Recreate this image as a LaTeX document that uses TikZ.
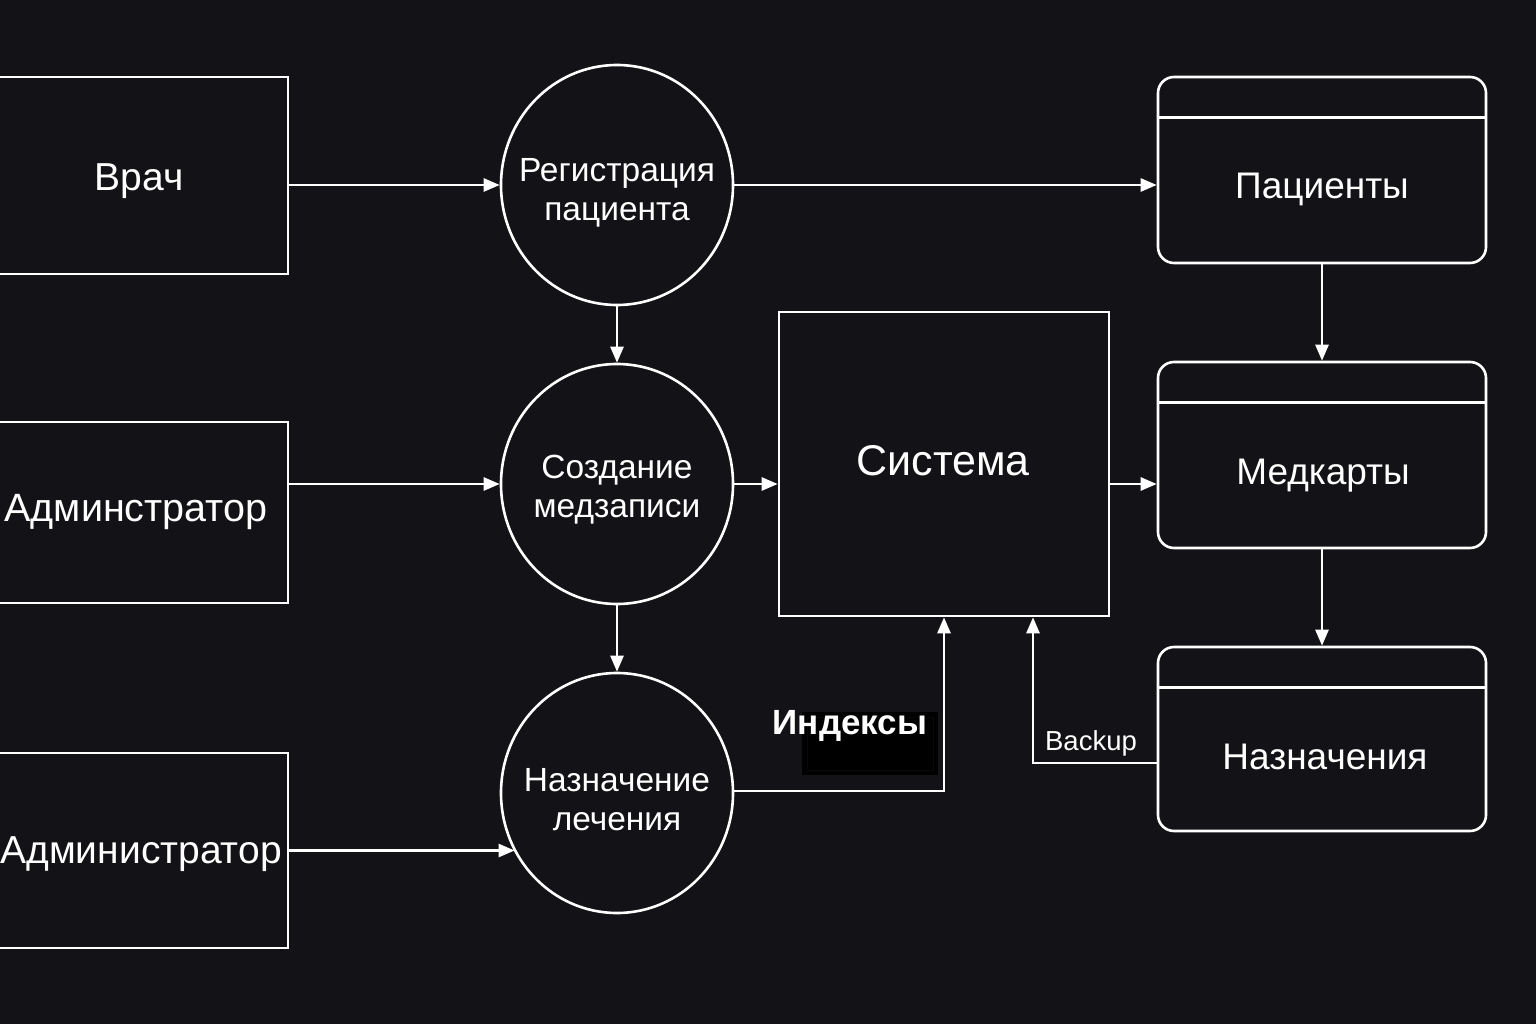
\documentclass[tikz,border=0pt]{standalone}
\usepackage{fontspec}
\setmainfont{Liberation Sans}
\usetikzlibrary{shapes.geometric,arrows.meta,calc}
\definecolor{bg}{HTML}{131317}
\begin{document}
\begin{tikzpicture}[x=1pt,y=-1pt, line width=2.6pt, white,
  ent/.style={draw=white, rectangle, minimum width=298pt, inner sep=0pt},
  etxt/.style={font=\fontsize{39}{46}\selectfont, inner sep=0pt},
  proc/.style={draw=white, ellipse, minimum width=232pt, minimum height=240pt, inner sep=0pt},
  ptxt/.style={align=center, font=\fontsize{33.5}{39}\selectfont, inner sep=0pt},
  store/.style={draw=white, rounded corners=16pt, minimum width=328pt, inner sep=0pt},
  stxt/.style={font=\fontsize{37}{44}\selectfont, inner sep=0pt},
  arr/.style={draw=white, -{Triangle[length=16pt,width=13pt]}},
]
\fill[bg] (0,0) rectangle (1536,1024);
\useasboundingbox (0,0) rectangle (1536,1024);

% external entities
\node[ent, minimum height=197pt] (b1) at (139,175.5) {};
\node[etxt] (b1T) at (139,181.5) {Врач};
\node[ent, minimum height=181pt] (b2) at (139,512.5) {};
\node[etxt, font=\fontsize{39.5}{46}\selectfont] (b2T) at (136,512.5) {Админстратор};
\node[ent, minimum height=195pt] (b3) at (139,850.5) {};
\node[etxt] (b3T) at (141,854.5) {Администратор};

% processes
\node[proc] (c1) at (617,185) {};
\node[ptxt] (c1T) at (617,193) {Регистрация\\пациента};
\node[proc] (c2) at (617,484) {};
\node[ptxt] (c2T) at (617,490) {Создание\\медзаписи};
\node[proc] (c3) at (617,793) {};
\node[ptxt] (c3T) at (617,800) {Назначение\\лечения};

% system
\node[draw=white, minimum width=330pt, minimum height=304pt, inner sep=0pt] (sys) at (944,464) {};
\node[font=\fontsize{43}{50}\selectfont, inner sep=0pt] (sysT) at (943,461) {Система};

% stores
\node[store, minimum height=186pt] (pat) at (1322,170) {};
\draw ($(pat.north west)+(0,42)$) -- ($(pat.north east)+(0,42)$);
\node[stxt] (patT) at (1322,189) {Пациенты};
\node[store, minimum height=186pt] (med) at (1322,455) {};
\draw ($(med.north west)+(0,42)$) -- ($(med.north east)+(0,42)$);
\node[stxt] (medT) at (1323,476) {Медкарты};
\node[store, minimum height=184pt] (nazn) at (1322,739) {};
\draw ($(nazn.north west)+(0,42)$) -- ($(nazn.north east)+(0,42)$);
\node[stxt] (naznT) at (1325,757) {Назначения};

% connectors
\draw[arr] (c1.west -| b1.east) -- (c1.west);
\draw[arr] (c2.west -| b2.east) -- (c2.west);
\draw[arr] (b3.east) -- (b3.east -| c3.210);
\draw[arr] (c1.east) -- (c1.east -| pat.west);
\draw[arr] (c1.south) -- (c2.north);
\draw[arr] (c2.south) -- (c3.north);
\draw[arr] (c2.east) -- (c2.east -| sys.west);
\draw[arr] (c2.east -| sys.east) -- (c2.east -| med.west);
\draw[arr] (pat.south) -- (med.north);
\draw[arr] (med.south) -- (nazn.north);
\draw[arr] ($(c3.east)+(0,-2)$) -| (sys.south);
\coordinate (bk) at ($(sys.south)+(89,0)$);
\draw[arr] ($(nazn.west)+(0,24)$) -| (bk);

% labels
\fill[black] (802,712) rectangle (938,775);
\draw[black!55!bg, line width=1pt] (807,717) rectangle (933,770);
\node[font=\bfseries\fontsize{35}{40}\selectfont, inner sep=0pt] (idx) at (850,726) {Индексы};
\node[font=\fontsize{27.5}{32}\selectfont, inner sep=0pt] (bkl) at (1091,743) {Backup};
\end{tikzpicture}
\end{document}
